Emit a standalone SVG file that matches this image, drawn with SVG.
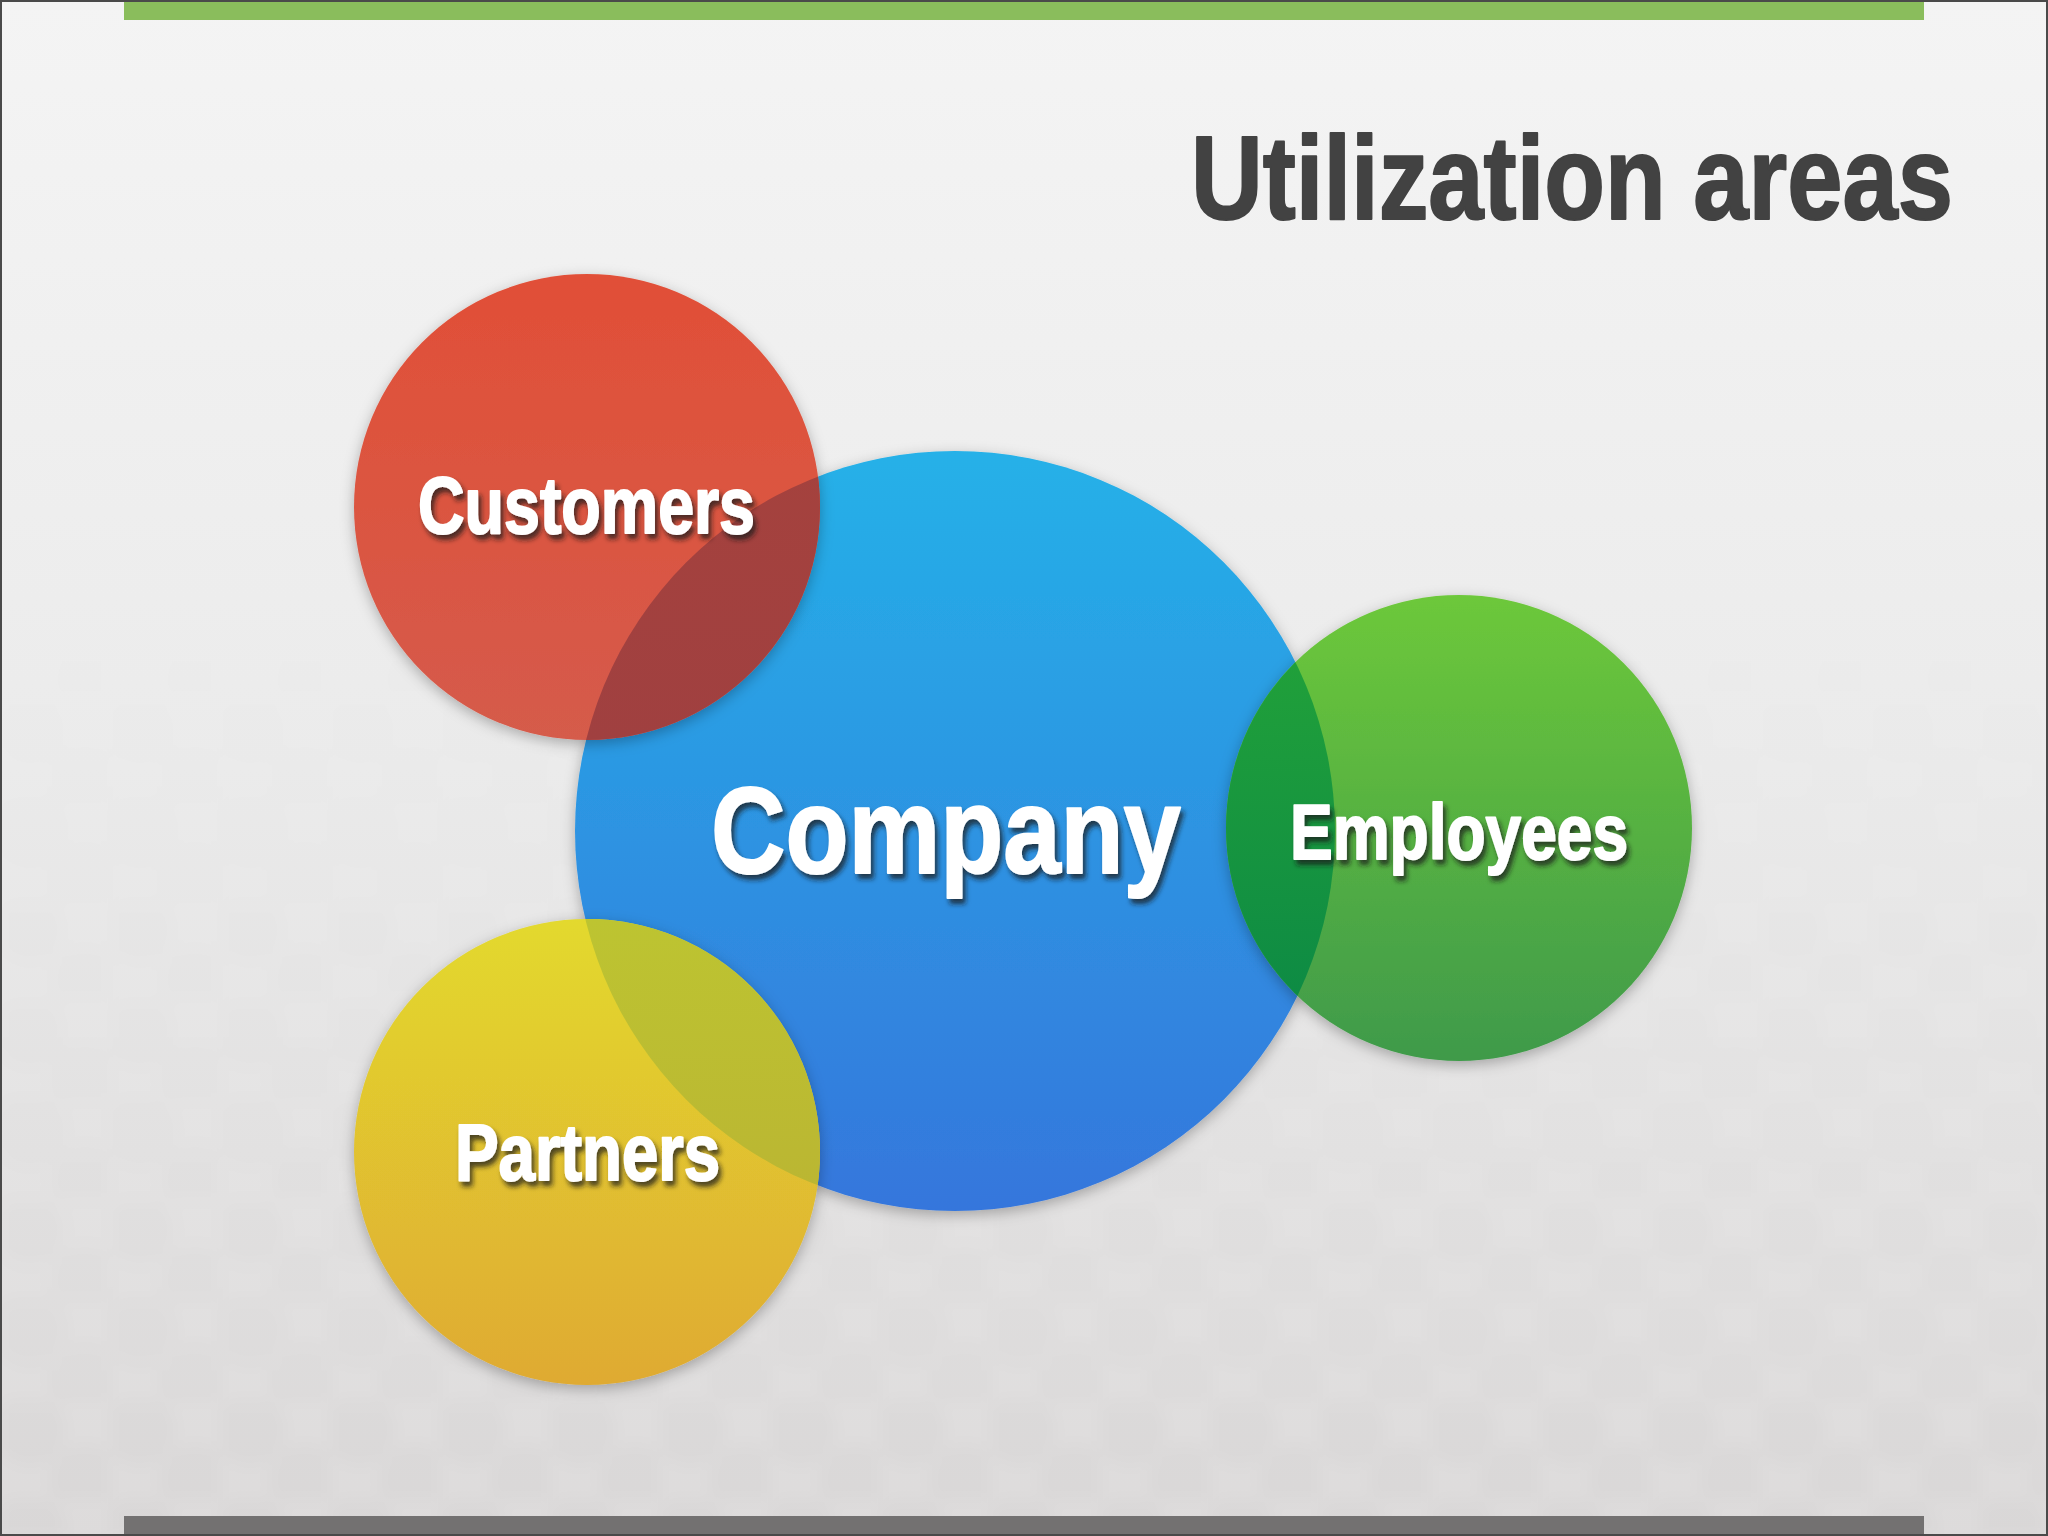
<svg xmlns="http://www.w3.org/2000/svg" width="2048" height="1536" viewBox="0 0 2048 1536">
<defs>
<style>
.lbl{font-family:"Liberation Sans",Arial,sans-serif;font-weight:bold;fill:#ffffff;stroke:#ffffff;stroke-width:2;stroke-linejoin:round;filter:url(#tshadow)}
.title{font-family:"Liberation Sans",Arial,sans-serif;font-weight:bold;fill:#424242;stroke:#424242;stroke-width:2;stroke-linejoin:round}
.circ{filter:url(#cshadow)}
</style>
<linearGradient id="bg" x1="0" y1="0" x2="0" y2="1">
<stop offset="0" stop-color="#f4f4f4"/>
<stop offset="0.5" stop-color="#ebebeb"/>
<stop offset="1" stop-color="#dddbdb"/>
</linearGradient>
<linearGradient id="gBlue" x1="0" y1="0" x2="0" y2="1">
<stop offset="0" stop-color="#25b1e8"/>
<stop offset="1" stop-color="#3576dc"/>
</linearGradient>
<linearGradient id="gRed" x1="0" y1="0" x2="0" y2="1">
<stop offset="0" stop-color="#e14f37"/>
<stop offset="1" stop-color="#d55b4b"/>
</linearGradient>
<linearGradient id="gGreen" x1="0" y1="0" x2="0" y2="1">
<stop offset="0" stop-color="#6dc83a"/>
<stop offset="1" stop-color="#3f9a4a"/>
</linearGradient>
<linearGradient id="gYellow" x1="0" y1="0" x2="0" y2="1">
<stop offset="0" stop-color="#e3d92e"/>
<stop offset="1" stop-color="#dfaa31"/>
</linearGradient>
<linearGradient id="oRed" x1="0" y1="0" x2="0" y2="1">
<stop offset="0" stop-color="#a8433c"/>
<stop offset="1" stop-color="#a04040"/>
</linearGradient>
<linearGradient id="oGreen" x1="0" y1="0" x2="0" y2="1">
<stop offset="0" stop-color="#24a438"/>
<stop offset="1" stop-color="#0a8746"/>
</linearGradient>
<linearGradient id="oYellow" x1="0" y1="0" x2="0" y2="1">
<stop offset="0" stop-color="#bdc431"/>
<stop offset="1" stop-color="#b9ac33"/>
</linearGradient>
<clipPath id="clipBlue"><circle cx="955" cy="831" r="380"/></clipPath>
<filter id="cshadow" x="-20%" y="-20%" width="140%" height="140%">
<feDropShadow dx="0" dy="4" stdDeviation="7" flood-color="#000" flood-opacity="0.28"/>
</filter>
<filter id="tshadow" x="-10%" y="-20%" width="120%" height="150%">
<feDropShadow dx="3" dy="5" stdDeviation="2.5" flood-color="#1a1a1a" flood-opacity="0.75"/>
</filter>
<filter id="soft" x="0" y="0" width="100%" height="100%">
<feGaussianBlur stdDeviation="8"/>
</filter>
<pattern id="dots" width="110" height="100" patternUnits="userSpaceOnUse">
<circle cx="30" cy="30" r="36" fill="#000" fill-opacity="0.014"/>
<circle cx="85" cy="80" r="36" fill="#000" fill-opacity="0.014"/>
</pattern>
<linearGradient id="fade" x1="0" y1="0" x2="0" y2="1">
<stop offset="0.35" stop-color="#fff" stop-opacity="0"/>
<stop offset="1" stop-color="#fff" stop-opacity="1"/>
</linearGradient>
<mask id="fadeMask"><rect x="0" y="0" width="2048" height="1536" fill="url(#fade)"/></mask>
</defs>

<g id="background">
<rect x="0" y="0" width="2048" height="1536" fill="url(#bg)"/>
<rect x="0" y="0" width="2048" height="1536" fill="url(#dots)" mask="url(#fadeMask)" filter="url(#soft)"/>
<rect x="124" y="0" width="1800" height="20" fill="#8abd5c"/>
<rect x="124" y="1516" width="1800" height="20" fill="#737171"/>
<rect x="1" y="1" width="2046" height="1534" fill="none" stroke="#4a4a4a" stroke-width="2"/>
</g>

<g id="title">
<text class="title" x="1191" y="219" font-size="119" textLength="762" lengthAdjust="spacingAndGlyphs">Utilization areas</text>
</g>

<g id="company">
<circle class="circ" cx="955" cy="831" r="380" fill="url(#gBlue)"/>
</g>

<g id="customers">
<circle class="circ" cx="587" cy="507" r="233" fill="url(#gRed)"/>
<circle cx="587" cy="507" r="233" fill="url(#oRed)" clip-path="url(#clipBlue)"/>
</g>

<g id="partners">
<circle class="circ" cx="587" cy="1152" r="233" fill="url(#gYellow)"/>
<circle cx="587" cy="1152" r="233" fill="url(#oYellow)" clip-path="url(#clipBlue)"/>
</g>

<g id="employees">
<circle class="circ" cx="1459" cy="828" r="233" fill="url(#gGreen)"/>
<circle cx="1459" cy="828" r="233" fill="url(#oGreen)" clip-path="url(#clipBlue)"/>
</g>

<g id="connectors"></g>

<g id="labels">
<text class="lbl" x="711" y="873" font-size="123" textLength="470" lengthAdjust="spacingAndGlyphs">Company</text>
<text class="lbl" x="418" y="533" font-size="80" textLength="337" lengthAdjust="spacingAndGlyphs">Customers</text>
<text class="lbl" x="1290" y="859" font-size="78" textLength="338" lengthAdjust="spacingAndGlyphs">Employees</text>
<text class="lbl" x="455" y="1180" font-size="79" textLength="265" lengthAdjust="spacingAndGlyphs">Partners</text>
</g>
</svg>
